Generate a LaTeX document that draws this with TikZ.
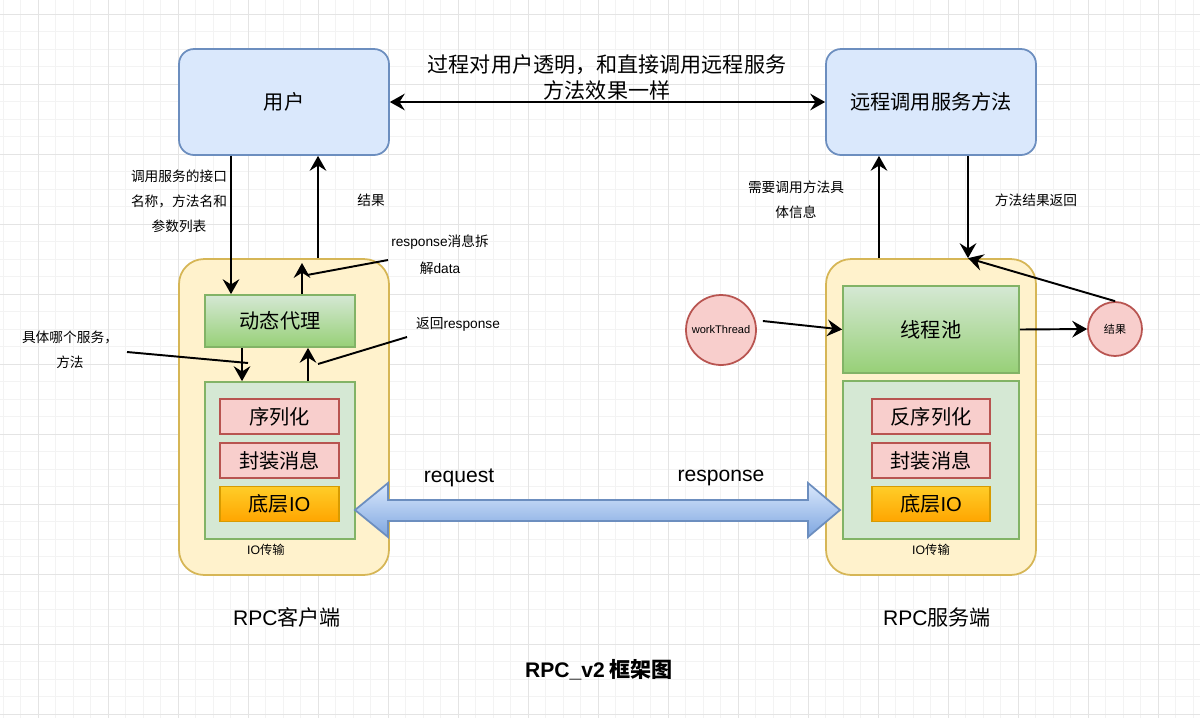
\documentclass[tikz,border=0pt]{standalone}
\usepackage{fontspec}
\setmainfont{Noto Sans CJK SC}
\newfontfamily\latin{Liberation Sans}
\usetikzlibrary{arrows.meta}
\definecolor{blueF}{HTML}{DAE8FC}
\definecolor{blueD}{HTML}{6C8EBF}
\definecolor{blueS}{HTML}{7EA6E0}
\definecolor{yellowF}{HTML}{FFF2CC}
\definecolor{yellowD}{HTML}{D6B656}
\definecolor{greenF}{HTML}{D5E8D4}
\definecolor{greenS}{HTML}{97D077}
\definecolor{greenD}{HTML}{82B366}
\definecolor{redF}{HTML}{F8CECC}
\definecolor{redD}{HTML}{B85450}
\definecolor{orangeT}{HTML}{FFCD28}
\definecolor{orangeB}{HTML}{FFA500}
\definecolor{orangeD}{HTML}{D79B00}
\definecolor{gridminor}{HTML}{F3F3F3}
\definecolor{gridmajor}{HTML}{E4E4E4}
\tikzset{bluebox/.style={draw=blueD,fill=blueF,line width=1pt,rounded corners=0.3cm,
           minimum width=4.2cm,minimum height=2.12cm,font=\fontsize{11.5}{14}\selectfont},
         holder/.style={draw=yellowD,fill=yellowF,line width=1pt,rounded corners=0.5cm,
           minimum width=4.2cm,minimum height=6.32cm},
         greenbox/.style={draw=greenD,top color=greenF,bottom color=greenS,line width=1pt,
           font=\fontsize{11.5}{14}\selectfont},
         layerbox/.style={draw=greenD,fill=greenF,line width=1pt},
         redbox/.style={draw=redD,fill=redF,line width=1pt,minimum height=0.7cm,
           font=\fontsize{11.5}{14}\selectfont},
         iobox/.style={draw=orangeD,top color=orangeT,bottom color=orangeB,line width=1pt,
           minimum height=0.7cm,font=\fontsize{11.5}{14}\selectfont},
         ball/.style={circle,draw=redD,fill=redF,line width=1pt,inner sep=0pt,
           font=\fontsize{6.3}{8}\selectfont},
         note/.style={align=center,font=\fontsize{7.8}{14.2}\selectfont},
         tiny/.style={font=\fontsize{7}{8}\selectfont},
         big/.style={font=\fontsize{12}{14.8}\selectfont,align=center},
         arr/.style={-{Stealth[length=8.5pt,width=9.5pt,inset=3pt]},line width=1.1pt},
         arrs/.style={{Stealth[length=8.5pt,width=9.5pt,inset=3pt]}-{Stealth[length=8.5pt,width=9.5pt,inset=3pt]},line width=1.1pt},
         pointer/.style={line width=1.1pt}}

\begin{document}
\begin{tikzpicture}[x=0.02cm,y=-0.02cm]
\useasboundingbox (0,0) rectangle (1200,718);
\fill[white] (0,0) rectangle (1200,718);
% grid
\foreach \gx in {3,20.5,...,1200} \draw[gridminor,line width=0.4pt] (\gx,0) -- (\gx,718);
\foreach \gy in {-3.5,14,...,718} \draw[gridminor,line width=0.4pt] (0,\gy) -- (1200,\gy);
\foreach \gx in {38,108,...,1200} \draw[gridmajor,line width=0.5pt] (\gx,0) -- (\gx,718);
\foreach \gy in {14,84,...,718} \draw[gridmajor,line width=0.5pt] (0,\gy) -- (1200,\gy);

% top boxes
\node[bluebox] (user) at (284,102) {用户};
\node[bluebox] (remote) at (931,102) {远程调用服务方法};
\node[big] (ltop) at (607,77) {过程对用户透明，和直接调用远程服务\\方法效果一样};

% client
\node[holder] (client) at (284,417) {};
\node[greenbox,minimum width=3cm,minimum height=1.04cm] (proxy) at (280,321) {动态代理};
\node[layerbox,minimum width=3cm,minimum height=3.14cm] (clow) at (280,460.5) {};
\node[redbox,minimum width=2.38cm] (cser) at (279.5,416.5) {序列化};
\node[redbox,minimum width=2.38cm] (cpack) at (279.5,460.5) {封装消息};
\node[iobox,minimum width=2.38cm] (cio) at (279.5,504) {底层{\latin IO}};
\node[tiny] (cionote) at (266,550) {{\latin IO}传输};
\node[big] (cname) at (287,617) {{\latin RPC}客户端};

% server
\node[holder] (server) at (931,417) {};
\node[greenbox,minimum width=3.52cm,minimum height=1.74cm] (pool) at (931,329.5) {线程池};
\node[layerbox,minimum width=3.52cm,minimum height=3.16cm] (slow) at (931,460) {};
\node[redbox,minimum width=2.36cm] (sdeser) at (931,416.5) {反序列化};
\node[redbox,minimum width=2.36cm] (spack) at (931,460.5) {封装消息};
\node[iobox,minimum width=2.36cm] (sio) at (931,504) {底层{\latin IO}};
\node[tiny] (sionote) at (931,550) {{\latin IO}传输};
\node[big] (sname) at (937,617) {{\latin RPC}服务端};
\node[ball,minimum size=1.4cm] (worker) at (721,330) {\latin workThread};
\node[ball,minimum size=1.08cm] (result) at (1115,329) {结果};

% transport
\path[draw=blueD,line width=1pt,top color=blueF,bottom color=blueS]
  (355,510) -- (388,483) -- (388,500) -- (808,500) -- (808,483) -- (840,510)
  -- (808,537) -- (808,521) -- (388,521) -- (388,537) -- cycle;
\node[big] (lreq) at (459,478) {\latin request};
\node[big] (lresp) at (721,478) {\latin response};
\node[big,font=\fontsize{12}{14.8}\selectfont\bfseries] (title) at (599,670) {{\latin\bfseries RPC\_v2} 框架图};

% labels
\node[note] (lcall) at (179,201) {调用服务的接口\\名称，方法名和\\参数列表};
\node[note] (lres) at (371,200) {结果};
\node[note,font=\fontsize{7.8}{15.4}\selectfont] (lunpack) at (440,254.5) {{\latin response}消息拆\\解{\latin data}};
\node[note] (lwhich) at (70,350) {具体哪个服务，\\方法};
\node[note] (lret) at (458,324) {返回{\latin response}};
\node[note] (lneed) at (796,200) {需要调用方法具\\体信息};
\node[note] (lback) at (1036,200) {方法结果返回};
\coordinate (unpacktip) at (302,263);
\coordinate (unpackfoot) at (307,275);
\coordinate (whichfoot) at (248,363);
\coordinate (retfoot) at (318,364);

% connectors
\draw[arrs] (user.east) -- (remote.west);
\draw[arr] (user.south -| 231,0) -- (proxy.north -| 231,0);
\draw[arr] (client.north -| 318,0) -- (user.south -| 318,0);
\draw[arr] (proxy.north -| unpacktip) -- (unpacktip);
\draw[pointer] (388,260) -- (unpackfoot);
\draw[arr] (proxy.south -| 242,0) -- (clow.north -| 242,0);
\draw[arr] (clow.north -| 308,0) -- (proxy.south -| 308,0);
\draw[pointer] (127,352) -- (whichfoot);
\draw[pointer] (407,337) -- (retfoot);
\draw[arr] (server.north -| 879,0) -- (remote.south -| 879,0);
\draw[arr] (remote.south -| 968,0) -- (server.north -| 968,0);
\draw[arr] ([shift={(6,-9)}]worker.east) -- (pool.west);
\draw[arr] (pool.east) -- (result.west);
\draw[arr] (result.north) -- (server.north -| 968,0);
\end{tikzpicture}
\end{document}
